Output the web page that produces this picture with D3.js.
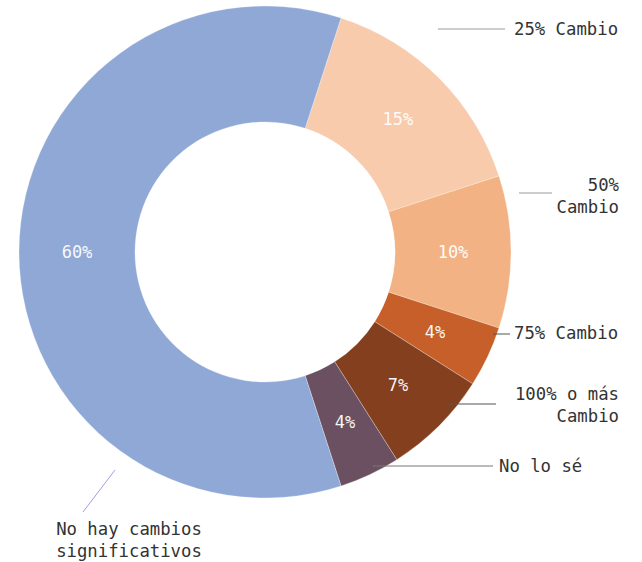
<!DOCTYPE html>
<html>
<head>
<meta charset="utf-8">
<script src="https://cdn.jsdelivr.net/npm/d3@7"></script>
<style>
  body { margin: 0; background: #fff; }
  #chart { width: 642px; height: 562px; }
  text { font-family: "DejaVu Sans Mono", "Liberation Mono", monospace; }
</style>
</head>
<body>
<div id="chart"></div>
<script>
// categories and values, clockwise from the top right
const categories = ["25% Cambio", "50% Cambio", "75% Cambio", "100% o más Cambio", "No lo sé", "No hay cambios significativos"];
const values = [15, 10, 4, 7, 4, 60];
const colors = ["#f8cbad", "#f2b283", "#c65f2a", "#843f1e", "#6a5060", "#8fa8d6"];
// label text split into lines
const labelLines = [["25% Cambio"], ["50%", "Cambio"], ["75% Cambio"], ["100% o más", "Cambio"], ["No lo sé"], ["No hay cambios", "significativos"]];

const width = 642, height = 562;
const cx = 265, cy = 252;
const outerR = 246, innerR = 130;

const svg = d3.select("#chart")
    .append("svg")
    .attr("width", width)
    .attr("height", height);

const g = svg.append("g")
    .attr("transform", `translate(${cx},${cy})`);

const pie = d3.pie()
    .sort(null)
    .value(d => d)
    .startAngle(Math.PI * 0.1)
    .endAngle(Math.PI * 2.1);

const arc = d3.arc().innerRadius(innerR).outerRadius(outerR);
const arcs = pie(values);

g.selectAll("path")
    .data(arcs)
    .enter()
    .append("path")
    .attr("d", arc)
    .attr("fill", (d, i) => colors[i])
    .attr("stroke", "#ffffff")
    .attr("stroke-opacity", 0.35)
    .attr("stroke-width", 0.8);

// percentage labels inside the ring
g.selectAll(".pct")
    .data(arcs)
    .enter()
    .append("text")
    .attr("class", "pct")
    .attr("transform", d => `translate(${arc.centroid(d)})`)
    .attr("text-anchor", "middle")
    .attr("dy", "0.35em")
    .attr("fill", "#ffffff")
    .attr("fill-opacity", 0.95)
    .attr("font-size", 17)
    .text(d => d.data + "%");

// outside labels with leader lines (hand placed)
const leaders = [
    {x1: 438, y1: 29, x2: 505, y2: 29, color: "#9a9a9a", tx: 514, ty: 29, anchor: "start"},
    {x1: 519, y1: 193, x2: 552, y2: 193, color: "#9a9a9a", tx: 619, ty: 185, anchor: "end"},
    {x1: 493, y1: 334, x2: 510, y2: 334, color: "#555555", tx: 514, ty: 333, anchor: "start"},
    {x1: 447, y1: 404, x2: 496, y2: 404, color: "#555555", tx: 619, ty: 394, anchor: "end"},
    {x1: 373, y1: 466, x2: 493, y2: 466, color: "#777777", tx: 499, ty: 466, anchor: "start"},
    {x1: 115, y1: 470, x2: 83, y2: 512, color: "#a49be0", tx: 129, ty: 529, anchor: "middle"}
];

const ann = svg.append("g").attr("id", "labels");

ann.selectAll("line")
    .data(leaders)
    .enter()
    .append("line")
    .attr("x1", d => d.x1).attr("y1", d => d.y1)
    .attr("x2", d => d.x2).attr("y2", d => d.y2)
    .attr("stroke", d => d.color)
    .attr("stroke-width", 1);

ann.selectAll("text")
    .data(leaders)
    .enter()
    .append("text")
    .attr("x", d => d.tx)
    .attr("y", d => d.ty)
    .attr("text-anchor", d => d.anchor)
    .attr("fill", "#333333")
    .attr("font-size", 17.3)
    .each(function(d, i) {
        d3.select(this).selectAll("tspan")
            .data(labelLines[i])
            .enter()
            .append("tspan")
            .attr("x", d.tx)
            .attr("dy", (t, j) => j === 0 ? "0.35em" : "1.25em")
            .text(t => t);
    });
</script>
</body>
</html>
